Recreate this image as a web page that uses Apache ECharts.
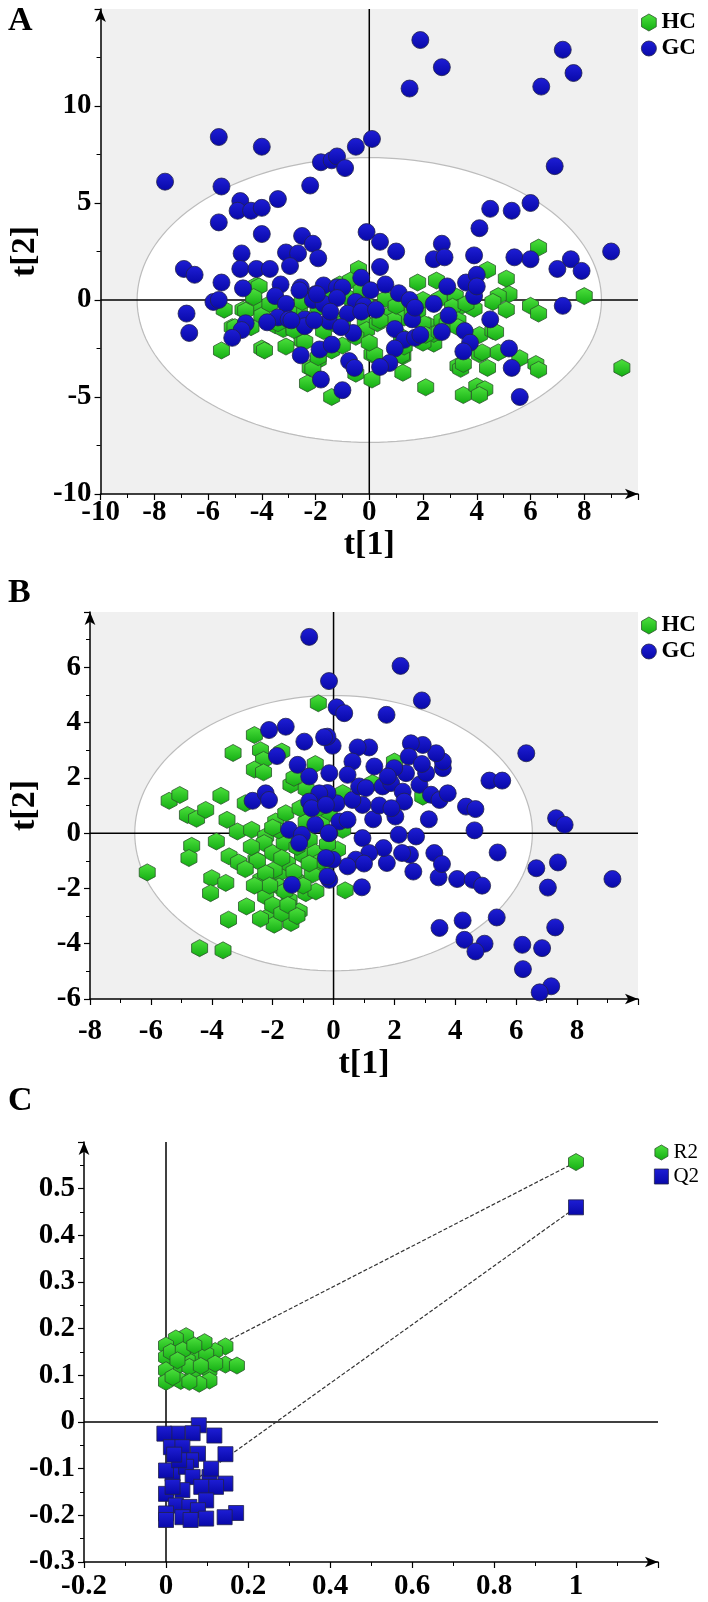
<!DOCTYPE html>
<html>
<head>
<meta charset="utf-8">
<script src="https://cdn.jsdelivr.net/npm/echarts@6/dist/echarts.min.js"></script>
<style>
  html, body { margin: 0; padding: 0; background: #fff; }
  #main { width: 708px; height: 1602px; }
</style>
</head>
<body>
<div id="main"></div>
<script>
// ---- panel A scores (t[1], t[2]) ----
const hcA = [
  [6.3,2.7],[4.4,1.55],[5.1,1.1],[2.5,1.0],[1.8,0.9],[-0.4,1.6],[5.2,0.3],[4.8,0.2],[4.6,-0.1],[5.1,-0.5],
  [8.0,0.2],[6.0,-0.3],[6.3,-0.7],[3.2,0.2],[3.3,-0.4],[3.9,-0.45],[2.6,0.05],[2.2,-1.3],[2.4,-2.25],[2.0,-2.2],
  [4.1,-1.8],[4.6,-1.6],[4.1,-2.8],[4.8,-2.7],[4.4,-3.5],[5.6,-3.0],[6.2,-3.3],[6.3,-3.6],[9.4,-3.5],[3.3,-3.4],
  [3.4,-3.55],[3.5,-4.9],[4.0,-4.45],[4.3,-4.6],[4.1,-4.9],[2.1,-4.5],[1.25,-3.75],[1.25,-2.9],[0.1,-2.8],[0.1,-4.1],
  [-0.5,-3.8],[-1.4,-5.0],[-2.3,-4.3],[-2.2,-3.5],[-1.9,-3.1],[-2.5,-2.1],[-3.1,-2.4],[-4.0,-2.5],[-3.9,-2.6],[-5.5,-2.6],
  [-5.4,-0.5],[-5.1,-1.4],[-4.2,0.75],[-4.3,0.0],[-4.2,-0.35],[-4.7,-0.5],[-4.0,-0.8],[-4.4,-1.4],[-3.5,-1.3],[-3.2,-1.5],
  [-2.8,-1.45],[-2.6,-0.55],[-1.7,-1.6],[-1.4,-2.6],[-1.2,-1.3],[-1.1,0.8],[-0.7,1.0],[-1.05,-1.05],[-0.15,-1.2],[-0.1,-1.55],
  [0.3,-1.2],[0.6,0.05],[0.85,-0.7],[1.3,-0.9],[1.6,-0.6],[2.0,-1.2],[2.4,-1.75],[2.7,-1.05],[3.1,-0.35],[3.3,-1.05],
  [3.6,-0.2],[-4.1,0.7],[-4.6,-0.55],[-3.7,-0.2],[-4.3,0.15],[-5.0,-1.4],[-2.4,-2.15],[-2.1,-3.55],[-1.9,-2.95],[-1.0,-2.35],
  [-2.8,-1.55],[-3.4,-1.2],[-0.3,0.5],[-0.6,-0.2],[-2.5,-0.1],[-1.9,-0.4],[-1.0,-1.2],[4.7,-1.65],[4.2,-2.7],[3.5,-3.3],
  [0.2,-2.8],[1.2,-2.85],[2.1,-1.8],[2.6,-1.65],[0.9,-1.05],[1.8,-0.55],[2.0,0.0],[2.9,-1.2],[3.3,-1.4],[0.4,-1.05],
  [1.2,-1.9],[1.3,-2.4],[-0.15,-0.2],[-3.0,-0.6],[-2.2,-1.0],[-0.5,-1.9],[0.0,-2.2],[1.0,-0.3],[-1.5,0.3],[-0.9,0.2]
];
const gcA = [
  [1.9,13.4],[7.2,12.9],[2.7,12.0],[7.6,11.7],[1.5,10.9],[6.4,11.0],[-5.6,8.4],[-4.0,7.9],[0.1,8.3],[-0.5,7.9],
  [-1.8,7.1],[-1.4,7.2],[-1.2,7.4],[-0.9,6.8],[6.9,6.9],[-7.6,6.1],[-5.5,5.85],[-2.2,5.9],[-4.8,5.1],[-3.4,5.2],
  [-4.9,4.6],[-4.4,4.6],[-4.0,4.75],[6.0,5.0],[4.5,4.7],[5.3,4.6],[-5.6,4.0],[4.1,3.7],[-4.0,3.4],[-2.5,3.3],
  [-2.1,2.9],[-0.1,3.5],[0.4,3.0],[2.7,2.9],[1.0,2.5],[-4.75,2.4],[-3.1,2.45],[-2.65,2.4],[9.0,2.5],[2.4,2.1],
  [2.8,2.2],[3.9,2.3],[5.4,2.2],[6.0,2.1],[7.5,2.1],[7.0,1.6],[7.9,1.5],[7.2,-0.3],[5.6,-5.0],[-6.9,1.6],
  [-6.5,1.3],[-6.8,-0.7],[-6.7,-1.7],[-5.5,0.9],[-5.8,-0.1],[-5.6,0.0],[-4.8,1.6],[-4.7,0.6],[-4.2,1.6],[-3.7,1.6],
  [-2.95,1.75],[-1.9,2.15],[0.4,1.7],[-0.3,1.15],[-3.3,0.8],[-2.55,0.65],[-1.7,0.75],[-1.2,0.65],[-1.0,0.65],[0.05,0.5],
  [0.6,0.8],[1.1,0.35],[-3.5,0.2],[-2.0,0.3],[-3.1,-0.2],[-2.1,0.0],[-1.7,-0.2],[-1.2,0.1],[-0.5,-0.1],[-0.2,-0.3],
  [1.5,0.0],[2.4,-0.2],[2.9,0.7],[3.6,0.9],[4.0,1.3],[3.9,0.2],[4.0,0.7],[4.5,-1.0],[-3.4,-0.9],[-3.0,-1.0],
  [-2.4,-1.0],[-2.4,-1.35],[-3.8,-1.15],[-4.6,-1.2],[-4.75,-1.55],[-5.1,-1.95],[-1.5,-1.1],[-1.45,-0.6],[-0.8,-0.7],[-0.3,-0.6],
  [0.25,-0.5],[0.95,-1.5],[1.3,-2.05],[1.6,-1.0],[1.7,-1.95],[1.9,-1.8],[2.7,-1.65],[2.95,-0.8],[3.55,-1.6],[3.75,-2.2],
  [3.5,-2.65],[5.2,-2.5],[5.3,-3.5],[0.95,-2.5],[0.75,-3.25],[0.4,-3.45],[-0.75,-3.15],[-0.55,-3.5],[-1.85,-2.55],[-1.4,-2.3],
  [-2.55,-2.85],[-1.8,-4.1],[-1.0,-4.65],[-0.6,-1.7],[1.7,-0.4],[-2.9,-1.05],[-2.05,-1.05],[-1.05,-1.4],[-2.6,0.5],[-1.95,0.3]
];
const ellipseA = [8.64, 7.34];

// ---- panel B scores ----
const hcB = [
  [-0.5,4.7],[-2.6,3.55],[-3.3,2.9],[-2.4,3.0],[-1.7,2.95],[-2.3,2.65],[-2.6,2.3],[-2.3,2.2],[-1.4,1.75],[-5.4,1.17],
  [-5.05,1.38],[-3.7,1.35],[-4.8,0.66],[-4.5,0.52],[-4.2,0.84],[-3.5,0.48],[-2.9,1.08],[-4.66,-0.46],[-4.75,-0.9],[-3.85,-0.3],
  [-6.12,-1.42],[-4.0,-1.63],[-3.54,-1.8],[-4.04,-2.17],[-2.86,-2.65],[-3.45,-3.13],[-4.4,-4.16],[-3.63,-4.24],[-3.16,0.06],[-2.69,0.12],
  [-2.23,-0.12],[-1.9,0.42],[-1.57,0.72],[-3.43,-0.84],[-3.12,-1.06],[-2.55,-0.96],[-2.28,-0.36],[-2.0,-0.72],[-1.79,-1.45],[-2.39,-1.69],
  [-2.23,-2.29],[-2.12,-3.01],[-1.95,-3.31],[-1.4,-3.25],[-1.13,-2.83],[-1.46,-2.41],[-0.91,-2.17],[-0.58,-2.11],[-1.24,-1.69],[-1.51,-1.09],
  [-1.02,-0.78],[-0.8,-0.24],[-1.35,-0.12],[-1.62,-0.36],[-1.95,-1.33],[-1.79,-1.93],[-2.23,-1.45],[2.0,2.59],[2.93,1.32],[0.38,-2.07],
  [0.13,-0.6],[1.28,1.81],[-0.14,0.72],[0.3,1.45],[0.3,0.12],[-2.0,-2.6],[-1.7,-2.9],[-2.5,-1.0],[-1.2,-0.5],[-0.9,0.4],
  [-0.6,-0.7],[-0.3,-1.3],[-1.6,-2.1],[-2.1,-1.9],[-1.3,-1.4],[-0.7,-1.5],[-1.8,0.1],[-0.4,-1.0],[-1.1,0.9],[-0.9,1.6],
  [-0.6,2.5],[-1.3,2.0],[-0.4,0.3],[-2.7,-0.5],[-2.9,-1.3],[-1.5,-2.6],[-2.4,-3.1],[-1.0,-1.9],[-2.6,-1.9],[-1.2,-3.0],
  [-0.5,0.9],[-0.2,-0.4],[-1.7,-0.9],[-2.0,0.2],[-0.8,-1.1]
];
const gcB = [
  [-0.8,7.1],[2.2,6.05],[-0.15,5.5],[2.9,4.8],[0.1,4.55],[0.35,4.34],[1.74,4.28],[6.33,2.89],[5.12,1.9],[5.54,1.9],
  [7.31,0.54],[7.59,0.3],[4.35,0.96],[4.66,0.87],[4.63,0.1],[5.39,-0.7],[6.66,-1.27],[7.37,-1.06],[9.16,-1.66],[7.04,-1.97],
  [4.24,-3.16],[3.48,-3.43],[5.36,-3.05],[7.28,-3.41],[4.3,-3.86],[4.96,-4.0],[4.66,-4.28],[6.2,-4.04],[6.85,-4.16],[6.22,-4.92],
  [7.15,-5.54],[6.77,-5.76],[3.45,-1.6],[4.06,-1.66],[4.57,-1.69],[4.88,-1.9],[0.93,-1.96],[3.31,-0.72],[3.56,-1.12],[2.62,-1.39],
  [2.51,-0.78],[2.25,-0.72],[1.75,-1.08],[1.64,-0.54],[2.71,-0.12],[2.14,-0.06],[3.13,0.5],[1.3,0.5],[2.03,0.6],[0.95,-0.18],
  [1.17,-0.72],[0.73,-0.96],[0.46,-1.2],[-0.03,-0.96],[-0.14,-1.69],[-0.14,0.0],[0.19,0.42],[0.46,0.48],[0.95,1.02],[0.1,1.08],
  [0.62,1.2],[0.84,1.69],[1.06,1.63],[1.61,1.69],[1.89,1.81],[2.27,1.5],[2.32,1.14],[2.82,1.75],[3.2,1.39],[3.48,1.2],
  [3.75,1.44],[3.04,2.17],[3.59,2.35],[3.59,2.59],[3.37,2.89],[2.93,3.19],[2.54,3.25],[2.47,2.77],[2.38,2.17],[1.99,2.35],
  [1.78,2.05],[1.34,2.41],[1.17,3.1],[0.79,3.1],[0.62,2.59],[0.46,2.11],[-0.03,3.16],[-0.2,3.49],[-0.14,2.17],[-0.2,1.45],
  [-2.12,3.73],[-1.57,3.85],[-0.96,3.31],[-0.31,3.47],[-1.86,2.79],[-1.18,2.47],[-0.8,2.05],[-2.66,1.17],[-2.23,1.44],[-2.12,1.2],
  [-0.47,1.44],[-0.8,1.14],[-0.72,0.9],[-0.25,1.02],[-1.46,0.12],[-1.04,-0.06],[-1.13,-0.36],[-0.6,0.3],[-0.16,0.0],[-0.25,-0.9],
  [-0.2,-1.57],[-1.37,-1.87],[1.5,1.0],[1.9,0.9],[2.9,2.5],[1.0,-1.1]
];
const ellipseB = [6.53, 4.98];

// ---- panel C permutation test ----
const r2Perm = [
  [0.049,0.184],[0.024,0.179],[0.0,0.164],[0.081,0.164],[0.145,0.162],[0.12,0.152],[0.077,0.143],[0.024,0.118],[0.0,0.139],[0.0,0.111],
  [0.0,0.086],[0.036,0.088],[0.065,0.104],[0.106,0.111],[0.145,0.123],[0.173,0.121],[0.106,0.089],[0.081,0.082],[0.016,0.096],[0.053,0.132],
  [0.098,0.146],[0.094,0.171],[0.012,0.15],[0.041,0.154],[0.069,0.164],[0.057,0.118],[0.028,0.132],[0.057,0.086],[0.12,0.125],[0.085,0.12]
];
const q2Perm = [
  [0.08,-0.007],[0.065,-0.024],[0.118,-0.029],[0.028,-0.025],[-0.004,-0.025],[0.145,-0.069],[0.078,-0.068],[0.012,-0.054],[0.04,-0.054],[0.061,-0.082],
  [0.016,-0.111],[0.049,-0.096],[0.106,-0.118],[0.145,-0.132],[0.122,-0.139],[0.065,-0.118],[0.086,-0.139],[0.04,-0.146],[0.0,-0.154],[0.024,-0.179],
  [0.057,-0.182],[0.098,-0.168],[0.078,-0.189],[0.0,-0.196],[0.04,-0.204],[0.171,-0.195],[0.143,-0.204],[0.016,-0.139],[0.0,-0.104],[0.098,-0.207],
  [0.032,-0.082],[0.0,-0.21],[0.06,-0.21],[0.11,-0.1],[0.02,-0.07]
];
const r2Orig = [1, 0.557];
const q2Orig = [1, 0.46];
const r2Fit = [[0, 0.106], r2Orig];
const q2Fit = [[0, -0.169], q2Orig];

const serif = "'Liberation Serif', 'DejaVu Serif', serif";
const hexPath = 'path://M0,-1 L0.866,-0.5 L0.866,0.5 L0,1 L-0.866,0.5 L-0.866,-0.5 Z';

const greenFill = new echarts.graphic.LinearGradient(0, 0, 0, 1, [
  { offset: 0, color: '#4ee23e' }, { offset: 1, color: '#12ac12' }
]);
const blueFill = new echarts.graphic.LinearGradient(0, 0, 0, 1, [
  { offset: 0, color: '#1e1ed6' }, { offset: 1, color: '#0808a8' }
]);

function valAxis(idx, min, max, interval, opts, labelMargin) {
  return Object.assign({
    type: 'value', gridIndex: idx, min: min, max: max, interval: interval,
    splitLine: { show: false },
    axisLine: { onZero: false, symbol: ['none', 'arrow'], symbolSize: [8, 13],
      lineStyle: { color: '#000', width: 1.5 } },
    axisTick: { length: 6, lineStyle: { color: '#000', width: 1.2 } },
    minorTick: { show: true, splitNumber: 2, length: 4, lineStyle: { color: '#000', width: 1 } },
    axisLabel: {
      color: '#000', fontFamily: serif, fontWeight: 'bold', fontSize: 29,
      margin: labelMargin == null ? 9 : labelMargin,
      formatter: v => (Math.abs(v - max) < 1e-9 ? '' : String(+v.toFixed(2)))
    }
  }, opts || {});
}

// white ellipse + zero lines drawn under the points
function backdrop(idx, semi, xr, yr) {
  return {
    type: 'custom', xAxisIndex: idx, yAxisIndex: idx, z: 1, silent: true, clip: false,
    data: [[0, 0]],
    renderItem(params, api) {
      const kids = [];
      if (semi) {
        const pts = [];
        for (let i = 0; i <= 160; i++) {
          const t = i / 160 * Math.PI * 2;
          pts.push(api.coord([semi[0] * Math.cos(t), semi[1] * Math.sin(t)]));
        }
        kids.push({ type: 'polygon', shape: { points: pts },
          style: { fill: '#fff', stroke: '#bcbcbc', lineWidth: 1.2 } });
      }
      const h0 = api.coord([xr[0], 0]), h1 = api.coord([xr[1], 0]);
      const v0 = api.coord([0, yr[0]]), v1 = api.coord([0, yr[1]]);
      kids.push({ type: 'line', shape: { x1: h0[0], y1: h0[1], x2: h1[0], y2: h1[1] },
        style: { stroke: '#000', lineWidth: 1.5 } });
      kids.push({ type: 'line', shape: { x1: v0[0], y1: v0[1], x2: v1[0], y2: v1[1] },
        style: { stroke: '#000', lineWidth: 1.5 } });
      return { type: 'group', children: kids };
    }
  };
}

function hcSeries(idx, data, size) {
  return { name: 'HC', type: 'scatter', xAxisIndex: idx, yAxisIndex: idx, z: 2,
    symbol: hexPath, symbolSize: size, data: data,
    itemStyle: { color: greenFill, borderColor: '#2b552b', borderWidth: 0.8, opacity: 1 } };
}
function gcSeries(idx, data, size) {
  return { name: 'GC', type: 'scatter', xAxisIndex: idx, yAxisIndex: idx, z: 3,
    symbol: 'circle', symbolSize: size, data: data,
    itemStyle: { color: blueFill, borderColor: '#22224a', borderWidth: 0.8, opacity: 1 } };
}

const titleStyle = { fontFamily: serif, fontWeight: 'bold', fontSize: 34, color: '#000' };
const nameStyle = { fontFamily: serif, fontWeight: 'bold', fontSize: 34, color: '#000' };
const legendText = { fontFamily: serif, fontWeight: 'bold', fontSize: 23, color: '#000' };

const chart = echarts.init(document.getElementById('main'));
chart.setOption({
  animation: false,
  backgroundColor: '#fff',
  title: [
    { text: 'A', left: 8, top: 4, padding: 0, textStyle: titleStyle },
    { text: 'B', left: 8, top: 576, padding: 0, textStyle: titleStyle },
    { text: 'C', left: 8, top: 1084, padding: 0, textStyle: titleStyle }
  ],
  legend: [
    { data: ['HC', 'GC'], orient: 'vertical', left: 641, top: 11, padding: 0, itemGap: 3,
      itemWidth: 15, itemHeight: 17, itemStyle: { borderWidth: 0.8 }, textStyle: legendText },
    { data: ['HC', 'GC'], orient: 'vertical', left: 641, top: 614, padding: 0, itemGap: 3,
      itemWidth: 15, itemHeight: 17, itemStyle: { borderWidth: 0.8 }, textStyle: legendText },
    { data: ['R2', 'Q2'], orient: 'vertical', left: 654, top: 1142, padding: 0, itemGap: 3,
      itemWidth: 14, itemHeight: 15, itemStyle: { borderWidth: 0.8 },
      textStyle: { fontFamily: serif, fontSize: 21, color: '#000' } }
  ],
  grid: [
    { left: 83, right: 70, top: 9, height: 485, show: true, backgroundColor: '#f0f0f0', borderWidth: 0 },
    { left: 88, right: 70, top: 612, height: 387, show: true, backgroundColor: '#f0f0f0', borderWidth: 0 },
    { left: 84, right: 50, top: 1142, height: 420 }
  ],
  xAxis: [
    valAxis(0, -10, 10, 2, { name: 't[1]', nameLocation: 'middle', nameGap: 26, nameTextStyle: nameStyle }, 4),
    valAxis(1, -8, 10, 2, { name: 't[1]', nameLocation: 'middle', nameGap: 48, nameTextStyle: nameStyle }, 18),
    valAxis(2, -0.2, 1.2, 0.2, null, 10)
  ],
  yAxis: [
    valAxis(0, -10, 15, 5, { name: 't[2]', nameLocation: 'middle', nameGap: 48, nameTextStyle: nameStyle }),
    valAxis(1, -6, 8, 2, { name: 't[2]', nameLocation: 'middle', nameGap: 48, nameTextStyle: nameStyle }),
    valAxis(2, -0.3, 0.6, 0.1)
  ],
  series: [
    backdrop(0, ellipseA, [-10, 10], [-10, 15]),
    hcSeries(0, hcA, [16, 17]),
    gcSeries(0, gcA, 17),
    backdrop(1, ellipseB, [-8, 10], [-6, 8]),
    hcSeries(1, hcB, [16, 17]),
    gcSeries(1, gcB, 17),
    backdrop(2, null, [-0.2, 1.2], [-0.3, 0.6]),
    { type: 'line', xAxisIndex: 2, yAxisIndex: 2, z: 1, data: r2Fit, symbol: 'none', silent: true,
      lineStyle: { color: '#333', width: 1.2, type: [4, 2] } },
    { type: 'line', xAxisIndex: 2, yAxisIndex: 2, z: 1, data: q2Fit, symbol: 'none', silent: true,
      lineStyle: { color: '#333', width: 1.2, type: [4, 2] } },
    { name: 'R2', type: 'scatter', xAxisIndex: 2, yAxisIndex: 2, z: 3, symbol: hexPath, symbolSize: [15, 17],
      data: r2Perm.concat([r2Orig]),
      itemStyle: { color: greenFill, borderColor: '#2b552b', borderWidth: 0.8, opacity: 1 } },
    { name: 'Q2', type: 'scatter', xAxisIndex: 2, yAxisIndex: 2, z: 2, symbol: 'rect', symbolSize: 15,
      data: q2Perm.concat([q2Orig]),
      itemStyle: { color: blueFill, borderColor: '#22224a', borderWidth: 0.8, opacity: 1 } }
  ]
});
</script>
</body>
</html>
